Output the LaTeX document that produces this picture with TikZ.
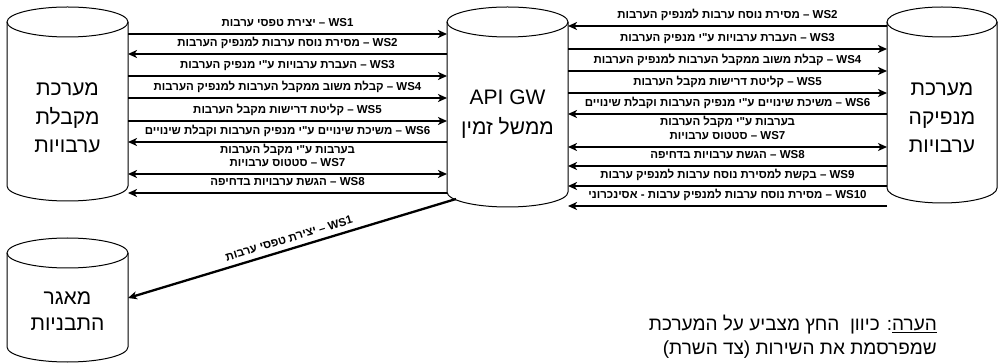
\documentclass[tikz,border=0pt]{standalone}
\usepackage{fontspec}
\setmainfont{Liberation Sans}
\newfontfamily\heb[Script=Hebrew]{Liberation Sans}
\TeXXeTstate=1
\usetikzlibrary{arrows.meta,calc}
\tikzset{
  cylline/.style={draw=black,line width=1pt},
  body/.style={inner sep=0pt,outer sep=0pt,draw=none},
  conn/.style={line width=2.3pt},
  tip/.style={conn,-{Stealth[length=9pt,width=8pt,inset=2.5pt]}},
  both/.style={conn,{Stealth[length=9pt,width=8pt,inset=2.5pt]}-{Stealth[length=9pt,width=8pt,inset=2.5pt]}},
  lbl/.style={font=\heb\bfseries\fontsize{11.5}{13}\selectfont,inner sep=0pt,text height=8.5pt,text depth=2.5pt},
  up/.style={lbl,pos=.5,yshift=10pt},
  dn/.style={lbl,pos=.5,yshift=-9pt},
  cyltext/.style={align=center,inner sep=0pt},
  notetext/.style={anchor=base east,inner sep=0pt,font=\heb\fontsize{19}{24}\selectfont}
}
\newcommand\drawcyl[4]{%
  \draw[cylline] (#1-#4,#2+15) -- (#1-#4,#3-15) arc[start angle=180,end angle=0,x radius=#4,y radius=15] -- (#1+#4,#2+15);
  \draw[cylline] (#1,#2+15) ellipse[x radius=#4,y radius=15];
}
\begin{document}
\begin{tikzpicture}[x=1pt,y=-1pt]
\fill[white] (0,0) rectangle (998,363);
\useasboundingbox (0,0) rectangle (998,363);
% cylinder bodies (named)
\node[body,minimum width=121pt,minimum height=194pt] (L) at (67.5,104) {};
\node[body,minimum width=121pt,minimum height=200pt] (A) at (507.5,107) {};
\node[body,minimum width=110pt,minimum height=196pt] (R) at (942,105) {};
\node[body,minimum width=121pt,minimum height=124pt] (B) at (67.5,300) {};
\drawcyl{67.5}{7}{201}{60.5}
\drawcyl{507.5}{7}{207}{60.5}
\drawcyl{942}{7}{203}{55}
\drawcyl{67.5}{238}{362}{60.5}
% cylinder texts
\node[cyltext,font=\heb\fontsize{21}{28.5}\selectfont] (Lt) at (67.5,118) {מערכת\\מקבלת\\ערבויות};
\node[cyltext,font=\heb\fontsize{21}{30}\selectfont] (At) at (507.5,114) {API GW\\\beginR ממשל זמין\endR};
\node[cyltext,font=\heb\fontsize{21}{28.5}\selectfont] (Rt) at (942,118) {מערכת\\מנפיקה\\ערבויות};
\node[cyltext,font=\heb\fontsize{21}{26}\selectfont] (Bt) at (67.5,311) {מאגר\\התבניות};
% left side connectors
\draw[tip] (L.east |- 0,34) -- node[up]{\beginR\beginL WS1\endL{} – יצירת טפסי ערבות\endR} (A.west |- 0,34);
\draw[tip] (A.west |- 0,54) -- node[up]{\beginR\beginL WS2\endL{} – מסירת נוסח ערבות למנפיק הערבות\endR} (L.east |- 0,54);
\draw[tip] (L.east |- 0,76) -- node[up]{\beginR\beginL WS3\endL{} – העברת ערבויות ע"י מנפיק הערבות\endR} (A.west |- 0,76);
\draw[tip] (L.east |- 0,98) -- node[up]{\beginR\beginL WS4\endL{} – קבלת משוב ממקבל הערבות למנפיק הערבות\endR} (A.west |- 0,98);
\draw[tip] (L.east |- 0,121) -- node[up]{\beginR\beginL WS5\endL{} – קליטת דרישות מקבל הערבות\endR} (A.west |- 0,121);
\draw[tip] (A.west |- 0,142) -- node[up]{\beginR\beginL WS6\endL{} – משיכת שינויים ע"י מנפיק הערבות וקבלת שינויים\endR} node[dn]{\beginR בערבות ע"י מקבל הערבות\endR} (L.east |- 0,142);
\draw[both] (L.east |- 0,174) -- node[up]{\beginR\beginL WS7\endL{} – סטטוס ערבויות\endR} (A.west |- 0,174);
\draw[tip] (A.west |- 0,193) -- node[up]{\beginR\beginL WS8\endL{} – הגשת ערבויות בדחיפה\endR} (L.east |- 0,193);
% right side connectors
\draw[tip] (R.west |- 0,26) -- node[up]{\beginR\beginL WS2\endL{} – מסירת נוסח ערבות למנפיק הערבות\endR} (A.east |- 0,26);
\draw[tip] (A.east |- 0,49) -- node[up]{\beginR\beginL WS3\endL{} – העברת ערבויות ע"י מנפיק הערבות\endR} (R.west |- 0,49);
\draw[tip] (A.east |- 0,71) -- node[up]{\beginR\beginL WS4\endL{} – קבלת משוב ממקבל הערבות למנפיק הערבות\endR} (R.west |- 0,71);
\draw[tip] (A.east |- 0,93) -- node[up]{\beginR\beginL WS5\endL{} – קליטת דרישות מקבל הערבות\endR} (R.west |- 0,93);
\draw[tip] (R.west |- 0,114) -- node[up]{\beginR\beginL WS6\endL{} – משיכת שינויים ע"י מנפיק הערבות וקבלת שינויים\endR} node[dn]{\beginR בערבות ע"י מקבל הערבות\endR} (A.east |- 0,114);
\draw[both] (A.east |- 0,147) -- node[up]{\beginR\beginL WS7\endL{} – סטטוס ערבויות\endR} (R.west |- 0,147);
\draw[tip] (R.west |- 0,166) -- node[up]{\beginR\beginL WS8\endL{} – הגשת ערבויות בדחיפה\endR} (A.east |- 0,166);
\draw[tip] (R.west |- 0,186) -- node[up]{\beginR\beginL WS9\endL{} – בקשת למסירת נוסח ערבות למנפיק ערבות\endR} (A.east |- 0,186);
\draw[tip] (R.west |- 0,206) -- node[up]{\beginR\beginL WS10\endL{} – מסירת נוסח ערבות למנפיק ערבות - אסינכרוני\endR} (A.east |- 0,206);
% diagonal connector
\coordinate (Ad) at (456,199);
\draw[tip] (Ad) -- node[lbl,sloped,above=3pt,pos=.5]{\beginR\beginL WS1\endL{} – יצירת טפסי ערבות\endR} (B.east |- 0,298);
% note
\node[notetext] (n1) at (937,330) {\beginR\underline{הערה}: כיוון\ \ החץ מצביע על המערכת\endR};
\node[notetext] (n2) at (937,354) {\beginR שמפרסמת את השירות (צד השרת)\endR};
\end{tikzpicture}
\end{document}
